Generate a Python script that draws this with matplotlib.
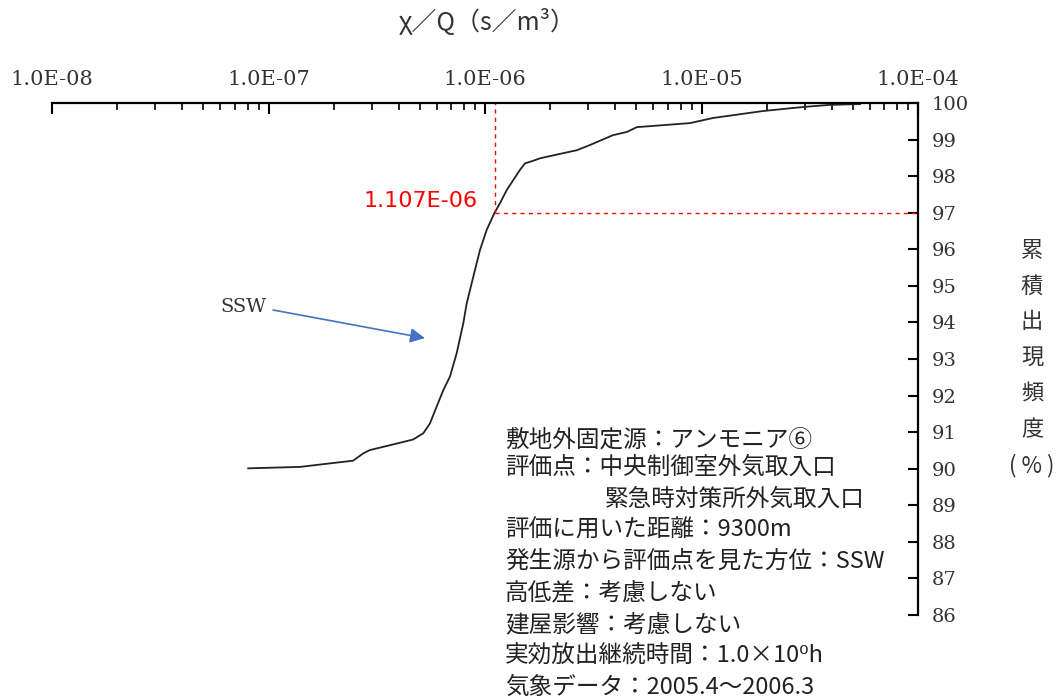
import matplotlib
matplotlib.use('Agg')
import matplotlib.pyplot as plt
from matplotlib.ticker import LogLocator, FixedLocator

plt.rcParams['font.family'] = ['Noto Sans CJK JP', 'DejaVu Sans']

# cumulative frequency curve
chi_q = [8.06e-8, 1.40e-7, 2.46e-7, 2.74e-7, 2.94e-7, 3.51e-7, 4.05e-7, 4.66e-7,
         5.19e-7, 5.57e-7, 5.98e-7, 6.42e-7, 6.89e-7, 7.40e-7, 7.94e-7, 8.23e-7,
         8.83e-7, 9.48e-7, 1.018e-6, 1.107e-6, 1.173e-6, 1.26e-6, 1.35e-6, 1.45e-6,
         1.53e-6, 1.67e-6, 1.80e-6, 2.66e-6, 3.05e-6, 3.90e-6, 4.53e-6, 5.03e-6,
         8.85e-6, 1.13e-5, 1.92e-5, 2.94e-5, 3.93e-5, 5.40e-5]
cum_freq = [90.01, 90.05, 90.22, 90.42, 90.51, 90.62, 90.71, 90.80,
            90.97, 91.24, 91.70, 92.15, 92.52, 93.16, 93.98, 94.52,
            95.25, 95.98, 96.53, 97.0, 97.26, 97.62, 97.89, 98.17,
            98.35, 98.42, 98.49, 98.71, 98.85, 99.12, 99.21, 99.34,
            99.45, 99.59, 99.78, 99.89, 99.95, 99.97]

x_ticks = [1e-8, 1e-7, 1e-6, 1e-5, 1e-4]
x_ticklabels = ['1.0E-08', '1.0E-07', '1.0E-06', '1.0E-05', '1.0E-04']
y_ticks = list(range(86, 101))

mark_x = 1.107e-6
mark_y = 97
mark_label = '1.107E-06'

info_lines = ['敷地外固定源：アンモニア⑥',
              '評価点：中央制御室外気取入口',
              '緊急時対策所外気取入口',
              '評価に用いた距離：9300m',
              '発生源から評価点を見た方位：SSW',
              '高低差：考慮しない',
              '建屋影響：考慮しない',
              '実効放出継続時間：1.0×10⁰h',
              '気象データ：2005.4～2006.3']
info_x = [505, 505, 605, 505, 505, 505, 505, 505, 505]
info_y = [440, 467, 499, 530, 561, 593, 625, 656, 687]

ylabel_chars = ['累', '積', '出', '現', '頻', '度', '( % )']

fig = plt.figure(figsize=(10.62, 7), dpi=100)
ax = fig.add_axes([52 / 1062, 1 - 615 / 700, (918 - 52) / 1062, (615 - 103) / 700])

ax.plot(chi_q, cum_freq, color='#222222', lw=1.3)

# marker lines
ax.plot([mark_x, mark_x], [mark_y, 100], color='red', lw=1, ls=(0, (3, 3)))
ax.plot([mark_x, 1e-4], [mark_y, mark_y], color='red', lw=1, ls=(0, (3, 3)))
ax.text(mark_x * 0.84, mark_y + 0.33, mark_label, color='red', fontsize=16,
        ha='right', va='center', family=['DejaVu Sans'])

ax.annotate('', xy=(5.28e-7, 93.57), xytext=(1.05e-7, 94.34),
            arrowprops=dict(arrowstyle='-|>', color='#4472C4', lw=1.2,
                            mutation_scale=22, shrinkA=0, shrinkB=0))
ax.text(9.8e-8, 94.42, 'SSW', ha='right', va='center', fontsize=14,
        family=['DejaVu Serif'], color='#333333')

ax.set_xscale('log')
ax.set_xlim(1e-8, 1e-4)
ax.set_ylim(86, 100)

for s in ['left', 'bottom']:
    ax.spines[s].set_visible(False)
for s in ['top', 'right']:
    ax.spines[s].set_linewidth(1.6)

ax.xaxis.set_ticks_position('top')
ax.set_xticks(x_ticks)
ax.set_xticklabels(x_ticklabels, family=['DejaVu Serif'], fontsize=15, color='#333333')
ax.xaxis.set_minor_locator(LogLocator(base=10, subs=range(2, 10)))
ax.tick_params(axis='x', which='major', direction='in', length=8, width=1.5, pad=10)
ax.tick_params(axis='x', which='minor', direction='in', length=5, width=1.2)

ax.yaxis.set_ticks_position('right')
ax.yaxis.set_major_locator(FixedLocator(y_ticks))
ax.set_yticklabels([str(v) for v in y_ticks], family=['DejaVu Serif'], fontsize=14,
                   color='#333333')
ax.tick_params(axis='y', which='major', direction='in', length=7, width=1.5, pad=10)

fig.text(487 / 1062, 1 - 22 / 700, 'χ／Q（s／m³）', ha='center', va='center',
         fontsize=18, color='#333333')

for i, ch in enumerate(ylabel_chars):
    fig.text(1032 / 1062, 1 - (250 + 36 * i) / 700, ch, ha='center', va='center',
             fontsize=16, color='#333333')

for line, x, y in zip(info_lines, info_x, info_y):
    fig.text(x / 1062, 1 - y / 700, line, ha='left', va='center', fontsize=17,
             color='#222222')

fig.savefig('out.png', dpi=100)
